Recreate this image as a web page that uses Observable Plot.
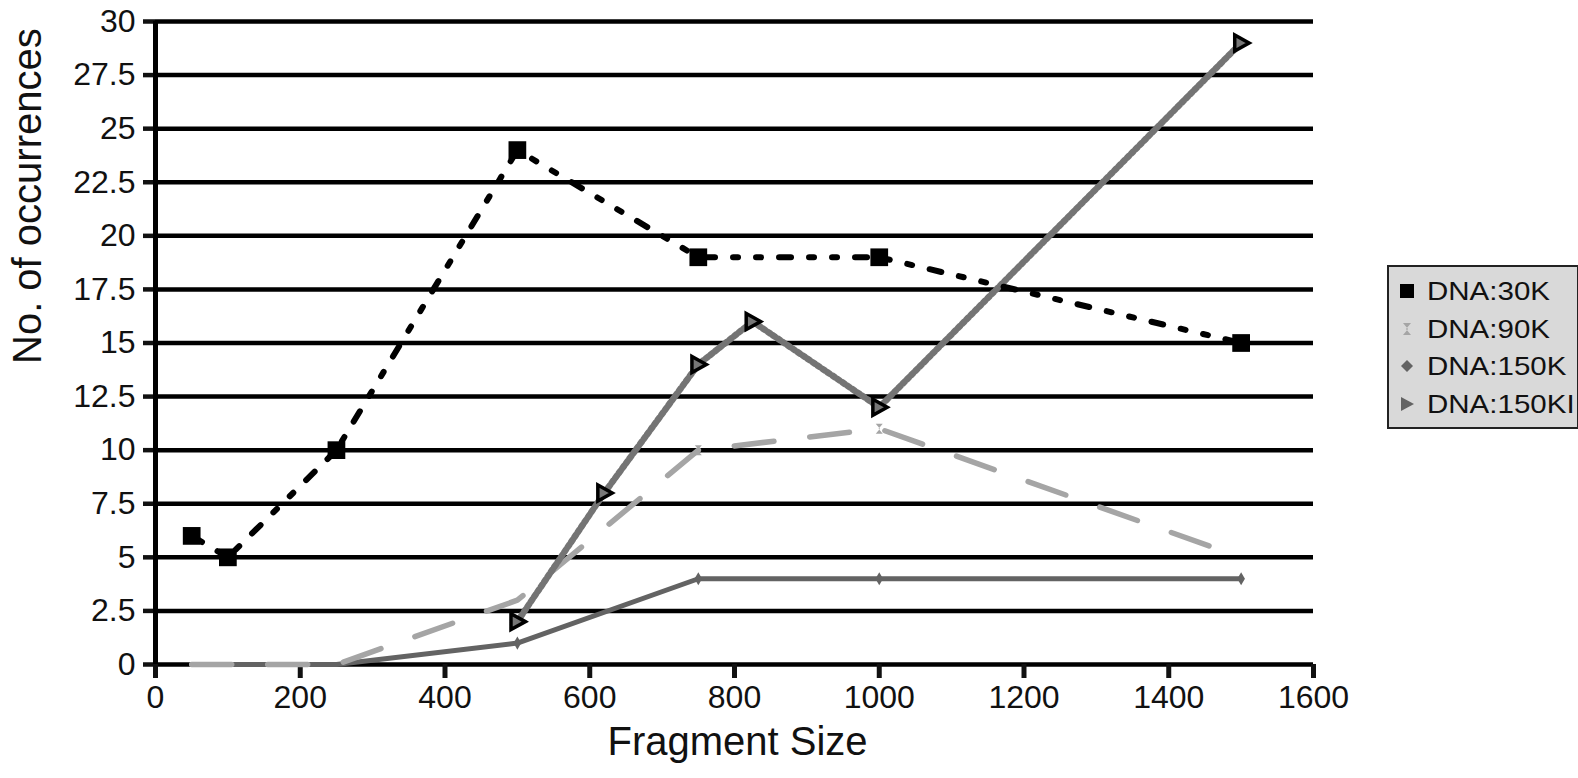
<!DOCTYPE html>
<html>
<head>
<meta charset="utf-8">
<script src="https://cdn.jsdelivr.net/npm/d3@7"></script>
<script src="https://cdn.jsdelivr.net/npm/@observablehq/plot@0.6"></script>
<style>
  html, body { margin: 0; padding: 0; background: #fff; }
  #wrap { position: relative; width: 1578px; height: 778px; }
  #legend {
    position: absolute; left: 1387px; top: 265px; width: 188px; height: 160px;
    background: #d9d9d9; border: 2px solid #222; box-sizing: content-box;
    font-family: "Liberation Sans", Arial, sans-serif; font-size: 25px; color: #111;
  }
  .item { position: absolute; left: 0; height: 30px; }
  .item svg { position: absolute; left: 6px; }
  .item span { position: absolute; left: 38px; white-space: nowrap; transform: scaleX(1.18); transform-origin: left center; line-height: 30px; top: -15px; }
</style>
</head>
<body>
<div id="wrap"></div>
<script>
// ---- data ----
const series = ["DNA:30K", "DNA:90K", "DNA:150K", "DNA:150KI"];
const sizes = [50, 100, 250, 500, 750, 1000, 1500];
const dna30K = [6, 5, 10, 24, 19, 19, 15];
const dna90K = [0, 0, 0, 3, 10, 11, 5];
const dna150K = [0, 0, 0, 1, 4, 4, 4];
const sizes150KI = [500, 620, 750, 825, 1000, 1500];
const dna150KI = [2, 8, 14, 16, 12, 29];
const xTicks = [0, 200, 400, 600, 800, 1000, 1200, 1400, 1600];
const yTicks = [0, 2.5, 5, 7.5, 10, 12.5, 15, 17.5, 20, 22.5, 25, 27.5, 30];
const xLabel = "Fragment Size";
const yLabel = "No. of occurrences";

const d30 = sizes.map((x, i) => ({x, y: dna30K[i]}));
const d90 = sizes.map((x, i) => ({x, y: dna90K[i]}));
const d150 = sizes.map((x, i) => ({x, y: dna150K[i]}));
const d150I = sizes150KI.map((x, i) => ({x, y: dna150KI[i]}));

// custom symbols
const triRight = {
  draw(ctx, size) {
    const r = Math.sqrt(size / Math.PI);
    ctx.moveTo(r, 0);
    ctx.lineTo(-r * 0.8, -r);
    ctx.lineTo(-r * 0.8, r);
    ctx.closePath();
  }
};
const hourglass = {
  draw(ctx, size) {
    const r = Math.sqrt(size / Math.PI);
    const w = r * 0.7;
    ctx.moveTo(-w, -r);
    ctx.lineTo(w, -r);
    ctx.lineTo(-w * 0.2, 0);
    ctx.lineTo(w, r);
    ctx.lineTo(-w, r);
    ctx.lineTo(w * 0.2, 0);
    ctx.closePath();
  }
};

const c90 = "#a5a5a5";
const c150 = "#636363";
const c150I = "#747474";

const chart = Plot.plot({
  width: 1578,
  height: 778,
  marginLeft: 155,
  marginRight: 265,
  marginTop: 21,
  marginBottom: 114,
  x: {domain: [0, 1600]},
  y: {domain: [0, 30]},
  style: {fontFamily: "'Liberation Sans', Arial, sans-serif", background: "white", color: "#111"},
  marks: [
    Plot.gridY(yTicks, {stroke: "black", strokeOpacity: 1, strokeWidth: 4.5}),
    Plot.axisY(yTicks, {tickSize: 12, tickPadding: 8, strokeWidth: 4.5, fontSize: 32, label: null, tickFormat: d => String(d)}),
    Plot.axisX(xTicks, {tickSize: 14, tickPadding: 7, strokeWidth: 5, fontSize: 32, label: null, tickFormat: d => String(d)}),
    Plot.ruleX([0], {stroke: "black", strokeWidth: 5}),
    // DNA:150K
    Plot.line(d150, {x: "x", y: "y", stroke: c150, strokeWidth: 5}),
    Plot.dot(d150.filter(d => d.y > 0), {x: "x", y: "y", symbol: "diamond", r: 4, fill: c150, stroke: "none"}),
    // DNA:90K
    Plot.line(d90, {x: "x", y: "y", stroke: c90, strokeWidth: 5.5, strokeDasharray: "40,36"}),
    Plot.dot(d90.filter(d => d.y > 5), {x: "x", y: "y", symbol: hourglass, r: 5, fill: c90, stroke: "none"}),
    // DNA:150KI
    Plot.line(d150I, {x: "x", y: "y", stroke: c150I, strokeWidth: 6.5, strokeDasharray: "3,3"}),
    Plot.dot(d150I, {x: "x", y: "y", symbol: triRight, r: 8, fill: "#777", stroke: "black", strokeWidth: 3.5}),
    // DNA:30K
    Plot.line(d30, {x: "x", y: "y", stroke: "black", strokeWidth: 6, strokeDasharray: "12,18,5,18,5,18"}),
    Plot.dot(d30, {x: "x", y: "y", symbol: "square", r: 10, fill: "black", stroke: "none"}),
    // titles
    Plot.text([xLabel], {frameAnchor: "bottom", dx: 3, dy: 90, fontSize: 40, fill: "#111"}),
    Plot.text([yLabel], {frameAnchor: "left", dx: -127, dy: 21, rotate: -90, fontSize: 40, fill: "#111"})
  ]
});

const wrap = document.getElementById("wrap");
wrap.appendChild(chart);

// legend
const legend = document.createElement("div");
legend.id = "legend";
const markerSvgs = [
  `<svg width="24" height="24" viewBox="-12 -12 24 24"><rect x="-7" y="-7" width="14" height="14" fill="black"/></svg>`,
  `<svg width="24" height="24" viewBox="-12 -12 24 24"><path d="M-4,-6L4,-6L-1,0L4,6L-4,6L1,0Z" fill="${c90}"/></svg>`,
  `<svg width="24" height="24" viewBox="-12 -12 24 24"><path d="M0,-6L6,0L0,6L-6,0Z" fill="${c150}"/></svg>`,
  `<svg width="24" height="24" viewBox="-12 -12 24 24"><path d="M7,0L-6,-7L-6,7Z" fill="${c150}"/></svg>`
];
series.forEach((name, i) => {
  const it = document.createElement("div");
  it.className = "item";
  it.style.top = (24 + i * 37.5) + "px";
  it.innerHTML = markerSvgs[i].replace("<svg", '<svg style="top:-12px"') + `<span>${name}</span>`;
  legend.appendChild(it);
});
wrap.appendChild(legend);
</script>
</body>
</html>
